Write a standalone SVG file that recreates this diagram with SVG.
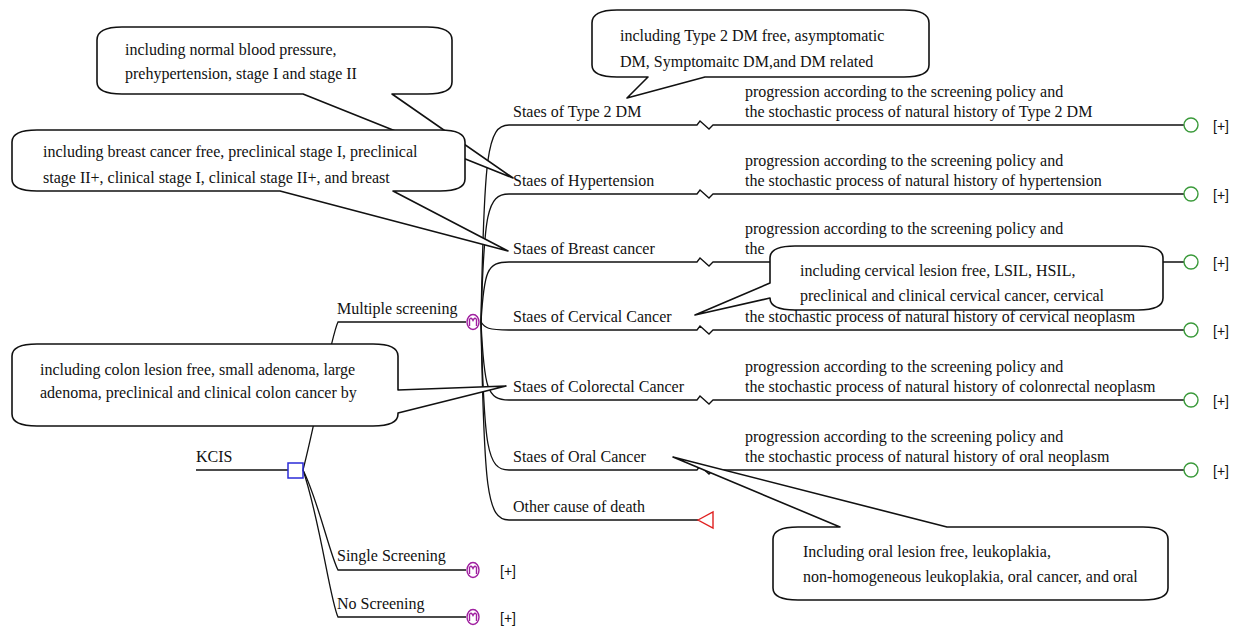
<svg xmlns="http://www.w3.org/2000/svg" width="1242" height="628" viewBox="0 0 1242 628">
<defs>
<style>
text{font-family:"Liberation Serif","Times New Roman",serif;font-size:16px;fill:#111}
.ln{fill:none;stroke:#111;stroke-width:1.3}
.co{fill:#fff;stroke:#111;stroke-width:1.6;stroke-linejoin:round}
.term{fill:none;stroke:#3a9a3a;stroke-width:1.4}
.mk{fill:none;stroke:#a020a0;stroke-width:1.4}
.pl{font-family:"Liberation Sans",Arial,sans-serif;font-size:14px}
</style>
<g id="markov">
<ellipse cx="0" cy="0" rx="6" ry="7.5" class="mk"/>
<path d="M-3.5 4 V-2.5 Q-2 -5.5 0 -1.5 Q2 -5.5 3.5 -2.5 V4" class="mk" stroke-width="1.1"/>
</g>
<g id="plus"><circle cx="0" cy="0" r="7" class="term"/></g>
</defs>
<rect width="1242" height="628" fill="#fff"/>

<g id="connectors">
<path class="ln" d="M196 470 H288"/>
<path class="ln" d="M303 470 C316 420 331 336 338 322 H466"/>
<path class="ln" d="M303 470 C318 500 330 555 338 570 H466"/>
<path class="ln" d="M303 470 C320 520 330 600 338 617 H466"/>
<path class="ln" d="M481 322 C484 155 487 125 509 125 H697 l3 -4 l9 8 l4 -4 H1184"/>
<path class="ln" d="M481 322 C484 213 487 194 509 194 H697 l3 -4 l9 8 l4 -4 H1184"/>
<path class="ln" d="M481 322 C484 271 487 262 509 262 H697 l3 -4 l9 8 l4 -4 H1184"/>
<path class="ln" d="M481 322 C485 328 488 330 509 330 H697 l3 -4 l9 8 l4 -4 H1184"/>
<path class="ln" d="M481 322 C484 388 487 400 509 400 H697 l3 -4 l9 8 l4 -4 H1184"/>
<path class="ln" d="M481 322 C484 448 487 470 509 470 H697 l3 -4 l9 8 l4 -4 H1184"/>
<path class="ln" d="M481 322 C484 490 487 520 509 520 H698"/>
</g>

<g id="n-kcis"><text x="196" y="462">KCIS</text><rect x="288" y="463" width="15" height="15" fill="none" stroke="#2b2bd8" stroke-width="1.5"/></g>
<g id="n-multiple"><text x="337" y="314">Multiple screening</text><use href="#markov" x="473" y="322"/></g>
<g id="n-single"><text x="337" y="561">Single Screening</text><use href="#markov" x="473" y="570"/><text class="pl" x="500" y="576">[+]</text></g>
<g id="n-none"><text x="337" y="609">No Screening</text><use href="#markov" x="473" y="617"/><text class="pl" x="500" y="623">[+]</text></g>

<g id="n-dm"><text x="513" y="117">Staes of Type 2 DM</text><text x="745" y="97">progression according to the screening policy and</text><text x="745" y="117">the stochastic process of natural history of Type 2 DM</text><use href="#plus" x="1191" y="125"/><text class="pl" x="1213" y="131">[+]</text></g>
<g id="n-ht"><text x="513" y="186">Staes of Hypertension</text><text x="745" y="166">progression according to the screening policy and</text><text x="745" y="186">the stochastic process of natural history of hypertension</text><use href="#plus" x="1191" y="194"/><text class="pl" x="1213" y="200">[+]</text></g>
<g id="n-bc"><text x="513" y="254">Staes of Breast cancer</text><text x="745" y="234">progression according to the screening policy and</text><text x="745" y="254">the</text><use href="#plus" x="1191" y="262"/><text class="pl" x="1213" y="268">[+]</text></g>
<g id="n-cc"><text x="513" y="322">Staes of Cervical Cancer</text><text x="745" y="322">the stochastic process of natural history of cervical neoplasm</text><use href="#plus" x="1191" y="330"/><text class="pl" x="1213" y="336">[+]</text></g>
<g id="n-crc"><text x="513" y="392">Staes of Colorectal Cancer</text><text x="745" y="372">progression according to the screening policy and</text><text x="745" y="392">the stochastic process of natural history of colonrectal neoplasm</text><use href="#plus" x="1191" y="400"/><text class="pl" x="1213" y="406">[+]</text></g>
<g id="n-oc"><text x="513" y="462">Staes of Oral Cancer</text><text x="745" y="442">progression according to the screening policy and</text><text x="745" y="462">the stochastic process of natural history of oral neoplasm</text><use href="#plus" x="1191" y="470"/><text class="pl" x="1213" y="476">[+]</text></g>
<g id="n-death"><text x="513" y="512">Other cause of death</text><path d="M698 520 L713 512 L713 528 Z" fill="none" stroke="#e02020" stroke-width="1.4"/></g>

<g id="callout-ht"><path class="co" d="M122 27 H427 Q452 27 452 40 V82 Q452 94 427 94 H392 L513 178 L303 94 H122 Q97 94 97 82 V40 Q97 27 122 27 Z"/><text x="125" y="55">including normal blood pressure,</text><text x="125" y="79">prehypertension, stage I and stage II</text></g>
<g id="callout-dm"><path class="co" d="M617 10 H904 Q929 10 929 23 V65 Q929 77 904 77 H705 L627 98 L648 77 H617 Q592 77 592 65 V23 Q592 10 617 10 Z"/><text x="620" y="41">including Type 2 DM free, asymptomatic</text><text x="620" y="67">DM, Symptomaitc DM,and DM related</text></g>
<g id="callout-bc"><path class="co" d="M37 130 H440 Q465 130 465 142 V179 Q465 191 440 191 H393 L508 251 L280 191 H37 Q12 191 12 179 V142 Q12 130 37 130 Z"/><text x="43" y="157">including breast cancer free, preclinical stage I, preclinical</text><text x="43" y="183">stage II+, clinical stage I, clinical stage II+, and breast</text></g>
<g id="callout-cc"><path class="co" d="M795 246 H1138 Q1163 246 1163 258 V298 Q1163 310 1138 310 H795 Q770 310 770 298 L695 315 L770 283 V258 Q770 246 795 246 Z"/><text x="800" y="276">including cervical lesion free, LSIL, HSIL,</text><text x="800" y="301">preclinical and clinical cervical cancer, cervical</text></g>
<g id="callout-crc"><path class="co" d="M37 344 H373 Q398 344 398 356 V390 L506 386 L398 413 V414 Q398 426 373 426 H37 Q12 426 12 414 V356 Q12 344 37 344 Z"/><text x="40" y="375">including colon lesion free, small adenoma, large</text><text x="40" y="398">adenoma, preclinical and clinical colon cancer by</text></g>
<g id="callout-oc"><path class="co" d="M798 527 H840 L673 457 L947 527 H1143 Q1168 527 1168 539 V588 Q1168 600 1143 600 H798 Q773 600 773 588 V539 Q773 527 798 527 Z"/><text x="803" y="557">Including oral lesion free, leukoplakia,</text><text x="803" y="582">non-homogeneous leukoplakia, oral cancer, and oral</text></g>
</svg>
